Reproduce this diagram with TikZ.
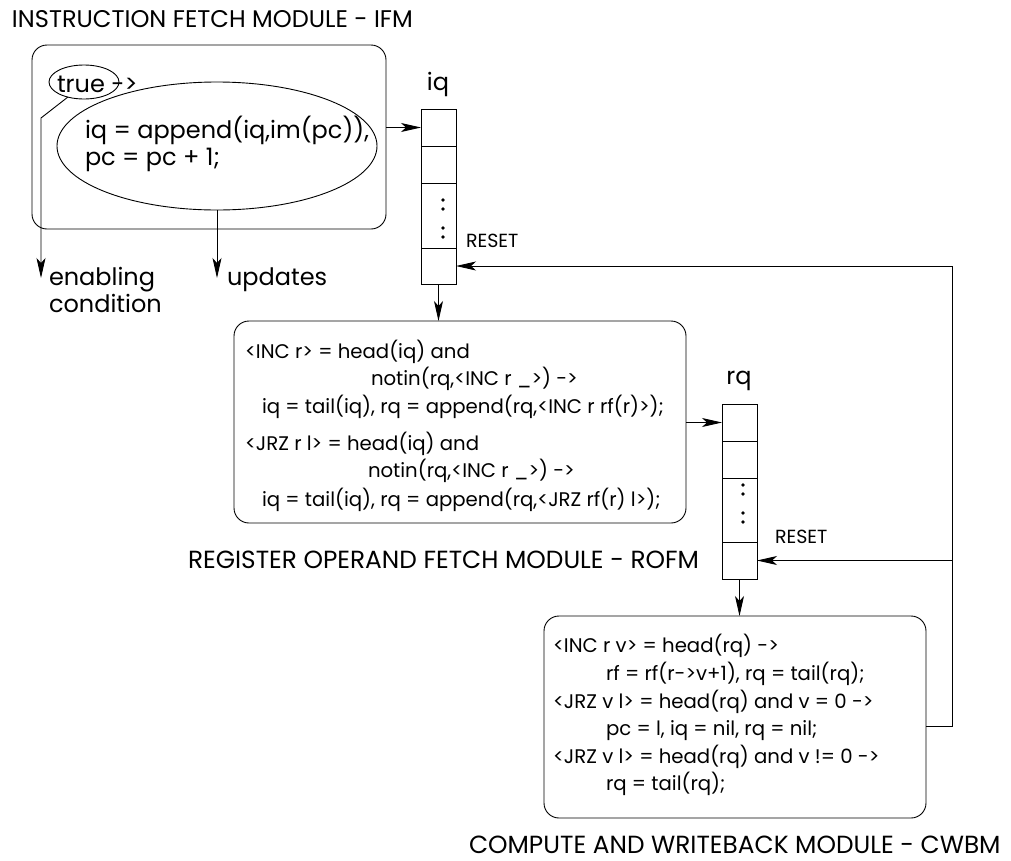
\documentclass[tikz,border=0pt]{standalone}
\usepackage{fontspec}
\setmainfont{Poppins}
\usetikzlibrary{shapes.geometric,arrows.meta}
\tikzset{
  lw/.style={line width=0.9pt},
  modbox/.style={draw,lw,rounded corners=15pt,inner sep=0pt,outer sep=0pt,anchor=north west},
  qbox/.style={draw,lw,inner sep=0pt,outer sep=0pt,anchor=north west,minimum width=35pt,minimum height=175pt},
  oval/.style={draw,lw,ellipse,inner sep=0pt,outer sep=0pt},
  arr/.style={lw,-{Stealth[length=20pt,width=9pt,inset=5pt]}},
  txt/.style={inner sep=0pt,outer sep=0pt,anchor=base west},
  bigA/.style={font=\fontsize{24.1}{26}\selectfont},
  bigB/.style={font=\fontsize{24.8}{26}\selectfont},
  mid/.style={font=\fontsize{24}{26}\selectfont},
  code/.style={font=\fontsize{19.7}{22}\selectfont},
  small/.style={font=\fontsize{19}{20}\selectfont},
}
\begin{document}
\begin{tikzpicture}[x=1pt,y=-1pt]
\useasboundingbox (0,0) rectangle (1011,860);
% titles
\node[txt,bigA] (t1) at (12,27) {INSTRUCTION FETCH MODULE - IFM};
\node[txt,bigB] (t2) at (188,568) {REGISTER OPERAND FETCH MODULE - ROFM};
\node[txt,bigB] (t3) at (469,853) {COMPUTE AND WRITEBACK MODULE - CWBM};
% IFM
\node[modbox,minimum width=354pt,minimum height=184pt] (ifm) at (32,45) {};
\node[oval,minimum width=70pt,minimum height=34pt] (te) at (84,82) {};
\node[oval,minimum width=320pt,minimum height=128pt] (up) at (217,146) {};
\node[txt,mid] (tt) at (57,92) {true ->};
\node[txt,mid] (u1) at (85,138) {iq = append(iq,im(pc)),};
\node[txt,mid] (u2) at (85,165) {pc = pc + 1;};
\coordinate (bend1) at (41,118);
\coordinate (ec) at (41,278);
\node[txt,mid] (en1) at (49,285) {enabling};
\node[txt,mid] (en2) at (49,312) {condition};
\node[txt,mid] (upd) at (227,285) {updates};
\draw[arr] (te.223) -- (bend1) -- (ec);
\draw[arr] (up.south) -- (up.south |- ec);
% iq queue
\node[txt,mid,anchor=base] (iql) at (438,90) {iq};
\node[qbox] (iqq) at (421,109) {};
\draw[lw] (421,146) -- (456,146) (421,183) -- (456,183) (421,248) -- (456,248);
\foreach \yy in {200,209,228,237} \fill (443,\yy) circle (1.8pt);
\coordinate (iq1) at (421,127.5);
\coordinate (iq4) at (456,266);
\node[txt,small] (r1) at (466,247) {RESET};
\draw[arr] (ifm.east |- iq1) -- (iq1);
% ROFM
\node[modbox,minimum width=452pt,minimum height=202pt] (rofm) at (234,321) {};
\draw[arr] (iqq.south) -- (iqq.south |- rofm.north);
\node[txt,code] at (245,358) {<INC r> = head(iq) and};
\node[txt,code] at (371,385) {notin(rq,<INC r \_>) ->};
\node[txt,code] at (262,413) {iq = tail(iq), rq = append(rq,<INC r rf(r)>);};
\node[txt,code] at (245,450) {<JRZ r l> = head(iq) and};
\node[txt,code] at (368,477) {notin(rq,<INC r \_>) ->};
\node[txt,code] at (262,506) {iq = tail(iq), rq = append(rq,<JRZ rf(r) l>);};
% rq queue
\node[txt,mid,anchor=base] (rql) at (739,384) {rq};
\node[qbox] (rqq) at (722,404) {};
\draw[lw] (722,441) -- (757,441) (722,478) -- (757,478) (722,542) -- (757,542);
\foreach \yy in {485,494,513,522} \fill (743,\yy) circle (1.8pt);
\coordinate (rq1) at (722,422.5);
\coordinate (rq4) at (757,560.5);
\node[txt,small] (r2) at (775,543) {RESET};
\draw[arr] (rofm.east |- rq1) -- (rq1);
% CWBM
\node[modbox,minimum width=382pt,minimum height=202pt] (cwbm) at (544,616) {};
\draw[arr] (rqq.south) -- (rqq.south |- cwbm.north);
\node[txt,code] at (553,652) {<INC r v> = head(rq) ->};
\node[txt,code] at (606,680) {rf = rf(r->v+1), rq = tail(rq);};
\node[txt,code] at (553,708) {<JRZ v l> = head(rq) and v = 0 ->};
\node[txt,code] at (606,735) {pc = l, iq = nil, rq = nil;};
\node[txt,code] at (553,763) {<JRZ v l> = head(rq) and v != 0 ->};
\node[txt,code] at (606,790) {rq = tail(rq);};
% reset feedback
\coordinate (fbout) at (926,726);
\coordinate (fbc) at (952,726);
\coordinate (fbtop) at (952,266);
\coordinate (fbmid) at (952,560.5);
\draw[arr] (fbout) -- (fbc) -- (fbtop) -- (iq4);
\draw[arr] (fbmid) -- (rq4);
\end{tikzpicture}
\end{document}
